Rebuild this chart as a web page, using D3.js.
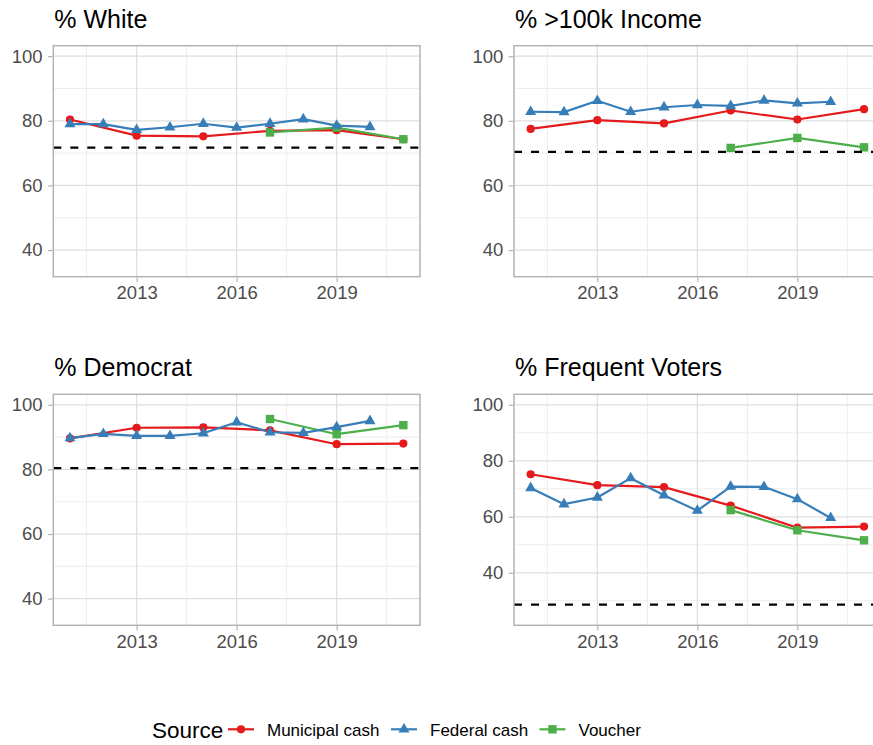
<!DOCTYPE html>
<html>
<head>
<meta charset="utf-8">
<script src="https://cdn.jsdelivr.net/npm/d3@7"></script>
<style>
  html, body { margin: 0; padding: 0; background: #ffffff; }
  svg { display: block; font-family: "Liberation Sans", Arial, sans-serif; }
</style>
</head>
<body>
<svg id="chart" width="873" height="745"></svg>
<script>
// ---- data ----
const municipalYears = [2011, 2013, 2015, 2017, 2019, 2021];
const federalYears = [2011, 2012, 2013, 2014, 2015, 2016, 2017, 2018, 2019, 2020];
const voucherYears = [2017, 2019, 2021];

const whiteMunicipal = [80.4, 75.4, 75.2, 76.9, 77.1, 74.3];
const whiteFederal = [79.0, 79.0, 77.2, 78.0, 79.1, 77.9, 79.1, 80.5, 78.5, 78.1];
const whiteVoucher = [76.4, 77.9, 74.3];
const whiteBenchmark = 71.7;

const incomeMunicipal = [77.5, 80.2, 79.2, 83.2, 80.4, 83.6];
const incomeFederal = [82.8, 82.7, 86.2, 82.8, 84.2, 84.9, 84.6, 86.3, 85.4, 85.9];
const incomeVoucher = [71.6, 74.7, 71.8];
const incomeBenchmark = 70.4;

const democratMunicipal = [89.6, 92.9, 93.0, 92.1, 87.8, 88.0];
const democratFederal = [89.7, 91.0, 90.4, 90.4, 91.2, 94.6, 91.5, 91.3, 93.1, 95.0];
const democratVoucher = [95.6, 90.9, 93.7];
const democratBenchmark = 80.4;

const votersMunicipal = [75.2, 71.3, 70.6, 64.0, 56.1, 56.5];
const votersFederal = [70.3, 64.5, 66.9, 73.8, 67.7, 62.2, 70.8, 70.7, 66.3, 59.6];
const votersVoucher = [62.4, 55.2, 51.6];
const votersBenchmark = 28.6;

const panelTitles = ["% White", "% >100k Income", "% Democrat", "% Frequent Voters"];
const yLimits = [[35, 100], [35, 100], [35, 100], [25, 100]];
const xLimits = [2011, 2021];
const xTicks = [2013, 2016, 2019];
const xMinorTicks = [2011.5, 2014.5, 2017.5, 2020.5];
const yTicks = [20, 40, 60, 80, 100];
const yMinorTicks = [30, 50, 70, 90];
const sourceNames = ["Municipal cash", "Federal cash", "Voucher"];
const legendTitle = "Source";

// ---- styling ----
const colors = { "Municipal cash": "#E41A1C", "Federal cash": "#377EB8", "Voucher": "#4DAF4A" };
const shapes = { "Municipal cash": "circle", "Federal cash": "triangle", "Voucher": "square" };

const panels = [
  { title: panelTitles[0], lim: yLimits[0], mun: whiteMunicipal, fed: whiteFederal, vou: whiteVoucher, bench: whiteBenchmark },
  { title: panelTitles[1], lim: yLimits[1], mun: incomeMunicipal, fed: incomeFederal, vou: incomeVoucher, bench: incomeBenchmark },
  { title: panelTitles[2], lim: yLimits[2], mun: democratMunicipal, fed: democratFederal, vou: democratVoucher, bench: democratBenchmark },
  { title: panelTitles[3], lim: yLimits[3], mun: votersMunicipal, fed: votersFederal, vou: votersVoucher, bench: votersBenchmark }
];

// panel boxes (left, top) in a 2x2 grid
const panelW = 366.7, panelH = 231;
const lefts = [53.3, 514];
const tops = [45.7, 394.3];

const svg = d3.select("#chart");

function expand(lim) {
  const pad = (lim[1] - lim[0]) * 0.05;
  return [lim[0] - pad, lim[1] + pad];
}

function drawMarker(g, shape, color, x, y) {
  if (shape === "circle") {
    g.append("circle").attr("cx", x).attr("cy", y).attr("r", 4.1).attr("fill", color);
  } else if (shape === "square") {
    g.append("rect").attr("x", x - 4.2).attr("y", y - 4.2).attr("width", 8.4).attr("height", 8.4).attr("fill", color);
  } else {
    const s = 4.1;
    const pts = [[x, y - 1.555 * s], [x - 1.347 * s, y + 0.778 * s], [x + 1.347 * s, y + 0.778 * s]];
    g.append("path").attr("d", "M" + pts.map(p => p.join(",")).join("L") + "Z").attr("fill", color);
  }
}

panels.forEach((p, i) => {
  const left = lefts[i % 2], top = tops[Math.floor(i / 2)];
  const x = d3.scaleLinear()
    .domain([xLimits[0] - (xLimits[1] - xLimits[0]) * 0.05, xLimits[1] + (xLimits[1] - xLimits[0]) * 0.05])
    .range([left, left + panelW]);
  const yDom = expand(p.lim);
  const y = d3.scaleLinear().domain(yDom).range([top + panelH, top]);
  const g = svg.append("g");

  const clipId = "clip" + i;
  svg.append("clipPath").attr("id", clipId)
    .append("rect").attr("x", left).attr("y", top).attr("width", panelW).attr("height", panelH);

  const grid = g.append("g").attr("clip-path", "url(#" + clipId + ")");
  // minor grid
  yMinorTicks.filter(v => v > yDom[0] && v < yDom[1]).forEach(v => {
    grid.append("line").attr("x1", left).attr("x2", left + panelW).attr("y1", y(v)).attr("y2", y(v))
      .attr("stroke", "#EBEBEB").attr("stroke-width", 0.9);
  });
  xMinorTicks.forEach(v => {
    grid.append("line").attr("x1", x(v)).attr("x2", x(v)).attr("y1", top).attr("y2", top + panelH)
      .attr("stroke", "#EBEBEB").attr("stroke-width", 0.9);
  });
  // major grid
  yTicks.filter(v => v > yDom[0] && v < yDom[1]).forEach(v => {
    grid.append("line").attr("x1", left).attr("x2", left + panelW).attr("y1", y(v)).attr("y2", y(v))
      .attr("stroke", "#DEDEDE").attr("stroke-width", 1.2);
  });
  xTicks.forEach(v => {
    grid.append("line").attr("x1", x(v)).attr("x2", x(v)).attr("y1", top).attr("y2", top + panelH)
      .attr("stroke", "#DEDEDE").attr("stroke-width", 1.2);
  });

  // series
  const series = [
    { name: "Municipal cash", years: municipalYears, vals: p.mun },
    { name: "Voucher", years: voucherYears, vals: p.vou },
    { name: "Federal cash", years: federalYears, vals: p.fed }
  ];
  const line = d3.line().x(d => x(d[0])).y(d => y(d[1]));
  const plot = g.append("g").attr("clip-path", "url(#" + clipId + ")");
  series.forEach(s => {
    const pts = s.years.map((yr, k) => [yr, s.vals[k]]);
    plot.append("path").attr("d", line(pts)).attr("fill", "none")
      .attr("stroke", colors[s.name]).attr("stroke-width", 2.2).attr("stroke-linejoin", "round");
  });
  series.forEach(s => {
    s.years.forEach((yr, k) => drawMarker(plot, shapes[s.name], colors[s.name], x(yr), y(s.vals[k])));
  });

  // benchmark
  plot.append("line").attr("x1", left).attr("x2", left + panelW)
    .attr("y1", y(p.bench)).attr("y2", y(p.bench))
    .attr("stroke", "#000").attr("stroke-width", 2.2).attr("stroke-dasharray", "8,9");

  // border
  g.append("rect").attr("x", left).attr("y", top).attr("width", panelW).attr("height", panelH)
    .attr("fill", "none").attr("stroke", "#B3B3B3").attr("stroke-width", 1.5);

  // axes
  const yAxis = d3.axisLeft(y).tickValues(yTicks.filter(v => v > yDom[0] && v < yDom[1]))
    .tickSize(4.5).tickPadding(5.5).tickFormat(d3.format("d"));
  const ya = g.append("g").attr("transform", `translate(${left - 0.75},0)`).call(yAxis);
  const xAxis = d3.axisBottom(x).tickValues(xTicks).tickSize(4.5).tickPadding(4).tickFormat(d3.format("d"));
  const xa = g.append("g").attr("transform", `translate(0,${top + panelH + 0.75})`).call(xAxis);
  [ya, xa].forEach(a => {
    a.select(".domain").remove();
    a.selectAll(".tick line").attr("stroke", "#B3B3B3").attr("stroke-width", 1.2);
    a.selectAll(".tick text").attr("fill", "#4D4D4D").attr("font-size", "18.5px")
      .attr("font-family", "'Liberation Sans', Arial, sans-serif");
  });

  // title
  g.append("text").attr("x", left + 1).attr("y", top - 18).attr("font-size", "25px").attr("fill", "#000")
    .text(p.title);
});

// legend
const legend = svg.append("g");
legend.append("text").attr("x", 152).attr("y", 738).attr("font-size", "22.5px").attr("fill", "#000").text(legendTitle);
const keyX = [228, 391, 539.5];
sourceNames.forEach((name, k) => {
  const kx = keyX[k], ky = 729.3;
  legend.append("line").attr("x1", kx).attr("x2", kx + 26).attr("y1", ky).attr("y2", ky)
    .attr("stroke", colors[name]).attr("stroke-width", 2.2);
  drawMarker(legend, shapes[name], colors[name], kx + 13, ky);
  legend.append("text").attr("x", kx + 39).attr("y", 736).attr("font-size", "17px").attr("fill", "#000")
    .text(name);
});
</script>
</body>
</html>
